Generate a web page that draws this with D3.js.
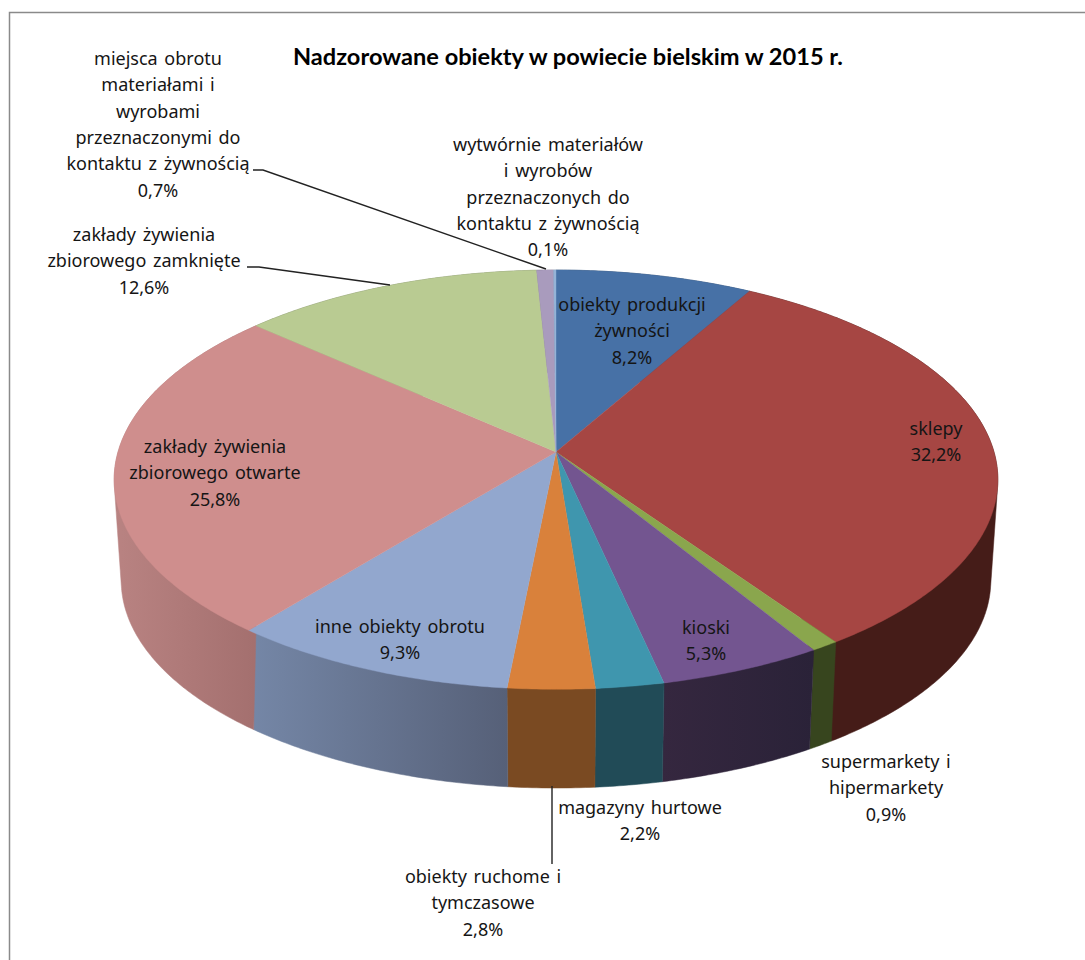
<!DOCTYPE html>
<html lang="pl">
<head>
  <meta charset="utf-8" />
  <title>Nadzorowane obiekty w powiecie bielskim w 2015 r.</title>
  <script src="https://d3js.org/d3.v7.min.js"></script>
  <style>
    html, body { margin: 0; padding: 0; background: #fff; }
    svg { display: block; }
    .lbl { font-family: "Noto Sans", sans-serif; font-size: 18px; fill: #151515; text-anchor: middle; word-spacing: 2px; }
    .title { font-family: Lato, sans-serif; font-weight: 700; font-size: 23.6px; fill: #000; }
  </style>
</head>
<body>
  <svg id="viz" width="1085" height="960"></svg>
  <script>
    const titleText = "Nadzorowane obiekty w powiecie bielskim w 2015 r.";

    const categories = [
      ["obiekty produkcji", "żywności"],
      ["sklepy"],
      ["supermarkety i", "hipermarkety"],
      ["kioski"],
      ["magazyny hurtowe"],
      ["obiekty ruchome i", "tymczasowe"],
      ["inne obiekty obrotu"],
      ["zakłady żywienia", "zbiorowego otwarte"],
      ["zakłady żywienia", "zbiorowego zamknięte"],
      ["miejsca obrotu", "materiałami i", "wyrobami", "przeznaczonymi do", "kontaktu z żywnością"],
      ["wytwórnie materiałów", "i wyrobów", "przeznaczonych do", "kontaktu z żywnością"]
    ];
    const values = [8.2, 32.2, 0.9, 5.3, 2.2, 2.8, 9.3, 25.8, 12.6, 0.7, 0.1];

    const topColors = ["#4771a6", "#a64643", "#8aa64d", "#735590", "#3f96ae", "#d9813b", "#92a7ce", "#cf8e8d", "#b9cb92", "#a99bbd", "#95b3d7"];
    const wallLeft  = ["#2d4769", "#451c18", "#37451e", "#35273f", "#214b57", "#7a4a22", "#7587a7", "#b98382", "#75815c", "#6b6278", "#5e7188"];
    const wallRight = ["#2d4769", "#451c18", "#37451e", "#2a2238", "#214b57", "#7a4a22", "#566078", "#a36f6e", "#75815c", "#6b6278", "#5e7188"];

    // label centre x, y of the first line (same order as categories)
    const labelX = [632, 936, 886, 706, 640, 483, 400, 215, 144, 158, 548];
    const labelY = [311, 435, 768, 634, 814, 883, 633, 453, 241, 65, 151];
    const LINE_H = 26.3;

    const leaders = [
      [[253, 170], [263, 170], [546, 269]],
      [[247, 267], [259, 267], [390, 285]],
      [[552, 786], [552, 864]]
    ];

    // perspective of the disc, from the rim read on the picture
    const CX = 556, CY = 452, A = 438, B = 206, K = 0.132;
    const A_LOW = 431, B_LOW = 204, CY_LOW = 553;

    function project(angle, low) {
      const u = Math.sin(angle), v = -Math.cos(angle);
      const w = 1 - K * v;
      return low
        ? [CX + A_LOW * u / w, CY_LOW + B_LOW * v / w]
        : [CX + A * u / w, CY + B * v / w];
    }

    function arcPoints(a0, a1, low) {
      const n = Math.max(2, Math.ceil((a1 - a0) / 0.01));
      return d3.range(n + 1).map(i => project(a0 + (a1 - a0) * i / n, low));
    }

    const svg = d3.select("#viz");
    const defs = svg.append("defs");
    const line = d3.line();

    // frame of the original chart area
    svg.append("path").attr("d", "M9.5,960V12.5H1085").attr("fill", "none").attr("stroke", "#8a8a8a").attr("stroke-width", 1.5);

    const idx = values.map((_, i) => i);
    const topColor = d3.scaleOrdinal(idx, topColors);
    const pie = d3.pie().sort(null).value(i => values[i]);
    const slices = pie(idx);

    // side walls first, the top face covers whatever is behind it
    // hull so the silhouette joins the two rims at the far left and right
    const walls = svg.append("g");
    slices.forEach(s => {
      const i = s.data;
      const pts = arcPoints(s.startAngle, s.endAngle, false).concat(arcPoints(s.startAngle, s.endAngle, true));
      const xs = d3.extent(pts, p => p[0]);
      const g = defs.append("linearGradient")
        .attr("id", "wall" + i)
        .attr("gradientUnits", "userSpaceOnUse")
        .attr("x1", xs[0]).attr("x2", xs[1]).attr("y1", 0).attr("y2", 0);
      g.append("stop").attr("offset", 0).attr("stop-color", wallLeft[i]);
      g.append("stop").attr("offset", 1).attr("stop-color", wallRight[i]);
      walls.append("path")
        .attr("d", line(d3.polygonHull(pts)) + "Z")
        .attr("fill", `url(#wall${i})`)
        .attr("stroke", `url(#wall${i})`)
        .attr("stroke-width", 0.5);
    });

    svg.append("g").selectAll("path")
      .data(slices)
      .join("path")
      .attr("d", s => line([[CX, CY]].concat(arcPoints(s.startAngle, s.endAngle, false))) + "Z")
      .attr("fill", s => topColor(s.data))
      .attr("stroke", s => topColor(s.data))
      .attr("stroke-width", 0.4);

    svg.append("g").selectAll("path")
      .data(leaders)
      .join("path")
      .attr("d", d => line(d))
      .attr("fill", "none")
      .attr("stroke", "#222")
      .attr("stroke-width", 1.4);

    const pct = v => String(v).replace(".", ",") + "%";
    const labels = svg.append("g").selectAll("text")
      .data(idx)
      .join("text")
      .attr("class", "lbl")
      .attr("x", i => labelX[i])
      .attr("y", i => labelY[i]);
    labels.selectAll("tspan")
      .data(i => categories[i].concat(pct(values[i])).map((t, n) => ({ t, n, i })))
      .join("tspan")
      .attr("x", d => labelX[d.i])
      .attr("y", d => labelY[d.i] + d.n * LINE_H)
      .text(d => d.t);

    svg.append("text")
      .attr("class", "title")
      .attr("x", 293)
      .attr("y", 65)
      .text(titleText);
  </script>
</body>
</html>
